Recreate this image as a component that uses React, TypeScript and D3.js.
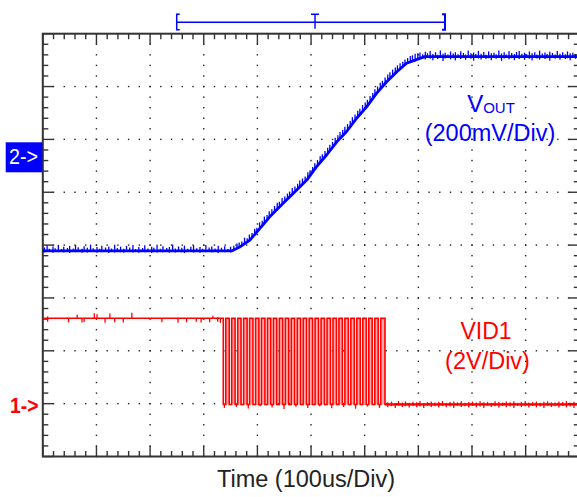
import React from "react";
import * as d3 from "d3";

// ---------- data (time in us, VOUT in mV relative to CH2 marker, VID1 in V) ----------
const TIME_DIVS = 10;
const US_PER_DIV = 100;
const V_DIVS = 8;
const CH1_REF_DIV = 1; // "1->" marker position (divisions from bottom)
const CH1_V_PER_DIV = 2;
const CH2_REF_DIV = 5.66; // "2->" marker position
const CH2_MV_PER_DIV = 200;

// VOUT main trace
const voutT = [0, 352, 368, 386, 402, 423, 448, 470, 492, 510, 529, 548, 566, 585, 604, 622, 641, 660, 678, 694, 712, 1000];
const voutMv = [-354, -354, -338, -313, -275, -225, -174, -130, -86, -36, 9, 59, 97, 148, 192, 242, 286, 324, 356, 368, 381, 381];

// VOUT noise streaks [t, lowMv, highMv]
const voutNoise: [number, number, number][] = [
  [3, -360, -341], [8, -358, -333], [12, -357, -346], [19, -361, -337], [23, -358, -344], [29, -359, -331], [35, -357, -347],
  [39, -360, -338], [46, -358, -343], [50, -362, -335], [57, -358, -345], [61, -359, -332], [66, -357, -340], [73, -361, -346],
  [77, -358, -336], [83, -360, -342], [89, -358, -330], [94, -357, -344], [101, -361, -339], [106, -358, -346], [110, -359, -334],
  [117, -357, -341], [123, -362, -337], [128, -358, -345], [134, -360, -331], [139, -357, -343], [145, -359, -338], [151, -361, -346],
  [156, -358, -335], [162, -357, -341], [168, -360, -332], [173, -358, -347], [179, -361, -339], [186, -357, -343], [190, -359, -333],
  [196, -358, -345], [203, -362, -338], [207, -357, -342], [213, -360, -331], [219, -358, -346], [224, -359, -336], [231, -357, -343],
  [236, -361, -339], [242, -358, -330], [247, -360, -345], [253, -357, -337], [259, -359, -342], [264, -362, -334], [270, -358, -346],
  [276, -357, -338], [281, -360, -333], [287, -358, -344], [293, -361, -339], [298, -357, -346], [304, -359, -332], [310, -358, -341],
  [315, -360, -337], [321, -357, -345], [327, -362, -334], [333, -358, -342], [339, -359, -336], [345, -357, -347], [350, -360, -338],
  [356, -352, -334], [362, -346, -326], [366, -343, -322], [371, -336, -318], [376, -330, -304], [381, -324, -306], [385, -317, -292],
  [390, -306, -286], [395, -295, -270], [399, -285, -266], [404, -272, -246], [409, -260, -240], [413, -250, -224], [418, -238, -218],
  [422, -228, -204], [427, -218, -196], [432, -206, -184], [437, -197, -172], [441, -189, -168], [446, -179, -154], [451, -169, -148],
  [456, -160, -137], [460, -152, -132], [465, -141, -116], [470, -132, -110], [475, -121, -100], [479, -113, -88], [484, -103, -80],
  [489, -93, -72], [494, -82, -56], [498, -72, -50], [503, -58, -36], [507, -47, -22], [512, -33, -10], [517, -21, 4],
  [521, -12, 12], [526, 0, 24], [531, 12, 36], [535, 22, 48], [540, 35, 58], [545, 49, 74], [550, 61, 84], [554, 70, 96],
  [559, 81, 104], [563, 89, 116], [568, 100, 126], [573, 115, 138], [577, 126, 152], [582, 138, 162], [587, 151, 176],
  [591, 161, 184], [596, 171, 198], [601, 184, 208], [605, 193, 218], [610, 207, 232], [615, 220, 244], [619, 231, 258],
  [624, 244, 268], [629, 255, 282], [633, 265, 290], [638, 277, 302], [643, 288, 314], [647, 297, 322], [652, 306, 332],
  [657, 315, 340], [661, 324, 348], [666, 331, 356], [671, 340, 362], [675, 348, 370], [680, 354, 376], [685, 359, 384],
  [689, 362, 386], [694, 364, 392], [699, 370, 394],
  [703, 373, 397], [708, 376, 390], [713, 370, 400], [717, 377, 394], [722, 373, 403], [727, 368, 391], [732, 376, 398],
  [736, 372, 388], [741, 377, 404], [746, 365, 392], [750, 374, 396], [755, 378, 389], [760, 371, 401], [765, 375, 393],
  [769, 367, 398], [774, 377, 390], [779, 372, 402], [784, 376, 395], [788, 369, 389], [793, 377, 404], [798, 373, 394],
  [803, 366, 397], [807, 376, 391], [812, 374, 403], [817, 370, 392], [822, 377, 399], [826, 372, 388], [831, 375, 401],
  [836, 368, 394], [841, 377, 396], [845, 373, 390], [850, 376, 404], [855, 365, 393], [860, 374, 398], [864, 377, 389],
  [869, 371, 402], [874, 375, 395], [879, 368, 391], [883, 377, 399], [888, 372, 403], [893, 376, 392], [898, 369, 396],
  [902, 377, 390], [907, 373, 401], [912, 367, 394], [917, 376, 398], [921, 374, 389], [926, 370, 404], [931, 377, 393],
  [936, 372, 397], [940, 375, 391], [945, 366, 400], [950, 377, 395], [955, 373, 389], [959, 376, 403], [964, 369, 392],
  [969, 377, 398], [974, 372, 390], [978, 375, 401], [983, 368, 394], [988, 377, 396], [993, 373, 391], [997, 376, 402],
];

// VID1 levels and pulse edges
const vidHigh = 3.23;
const vidLow = -0.03;
const vidFirstFall = 336.4;
const vidRise = [341.0, 352.1, 363.3, 374.3, 385.4, 396.6, 407.5, 418.7, 429.8, 440.9, 452.0, 463.1, 474.2, 485.3, 496.5, 507.5, 518.7, 529.8, 540.9, 552.0, 563.1, 574.2, 585.4, 596.5, 607.6, 618.8, 629.9];
const vidFall = [347.5, 358.4, 369.5, 380.8, 391.7, 402.8, 414.0, 425.0, 436.1, 447.2, 458.4, 469.4, 480.6, 491.6, 502.8, 513.9, 525.0, 536.1, 547.3, 558.3, 569.5, 580.6, 591.7, 602.9, 614.0, 625.1, 637.8];

// VID1 noise [t, lowV, highV]
const vidNoise: [number, number, number][] = [
  [9, 3.1, 3.3], [48, 3.08, 3.25], [64, 3.23, 3.36], [73, 3.07, 3.24], [77, 3.09, 3.24], [96, 3.23, 3.42],
  [101, 3.22, 3.38], [116, 3.06, 3.24], [125, 3.22, 3.41], [134, 3.08, 3.24], [150, 3.07, 3.24], [166, 3.22, 3.44],
  [222, 3.08, 3.24], [252, 3.06, 3.25], [268, 3.08, 3.24], [286, 3.1, 3.24], [295, 3.07, 3.24], [311, 3.08, 3.24],
  [317, 3.22, 3.33], [326, 3.1, 3.28], [331, 3.06, 3.24],
  [338.5, -0.16, -0.03], [360.8, -0.12, -0.03], [383, -0.18, -0.03], [405, -0.1, -0.03], [427.4, -0.15, -0.03],
  [449.6, -0.2, -0.03], [471.8, -0.12, -0.03], [494, -0.16, -0.03], [516.3, -0.1, -0.03], [538.5, -0.17, -0.03],
  [560.7, -0.13, -0.03], [583, -0.19, -0.03], [605.2, -0.11, -0.03], [627.5, -0.16, -0.03],
  [643, -0.14, 0.05], [650, -0.1, 0.08], [657, -0.16, 0.02], [663, -0.08, 0.1], [670, -0.13, 0.04], [676, -0.1, 0.09],
  [683, -0.15, 0.03], [690, -0.09, 0.07], [697, -0.14, 0.05], [703, -0.11, 0.1], [710, -0.16, 0.02], [717, -0.08, 0.06],
  [724, -0.13, 0.08], [731, -0.1, 0.04], [738, -0.15, 0.07], [745, -0.09, 0.1], [752, -0.14, 0.03], [759, -0.11, 0.06],
  [766, -0.16, 0.08], [773, -0.08, 0.05], [780, -0.13, 0.09], [787, -0.1, 0.03], [794, -0.15, 0.06], [801, -0.09, 0.08],
  [808, -0.14, 0.04], [815, -0.11, 0.1], [822, -0.16, 0.05], [829, -0.08, 0.07], [836, -0.13, 0.03], [843, -0.1, 0.09],
  [850, -0.15, 0.06], [857, -0.09, 0.04], [864, -0.14, 0.08], [871, -0.11, 0.05], [878, -0.16, 0.09], [885, -0.08, 0.03],
  [892, -0.13, 0.07], [899, -0.1, 0.1], [906, -0.15, 0.04], [913, -0.09, 0.06], [920, -0.14, 0.08], [927, -0.11, 0.03],
  [934, -0.16, 0.07], [941, -0.08, 0.09], [948, -0.13, 0.05], [955, -0.1, 0.04], [962, -0.15, 0.08], [969, -0.09, 0.06],
  [976, -0.14, 0.1], [983, -0.11, 0.03], [990, -0.16, 0.07], [997, -0.08, 0.05],
];

// top horizontal bracket (us)
const bracketRange = [249.6, 749.7];
const triggerT = 507.4;

// ---------- layout ----------
const W = 577;
const H = 497;
const X0 = 42.8;
const X1 = 579.3;
const Y0 = 456.5;
const Y1 = 33.7;

const BLUE = "#0000ff";
const RED = "#ff0000";
const AXIS = "#333333";
const FONT = "'Liberation Sans', Arial, sans-serif";

export default function App() {
  const x = d3.scaleLinear().domain([0, TIME_DIVS * US_PER_DIV]).range([X0, X1]);
  const yd = d3.scaleLinear().domain([0, V_DIVS]).range([Y0, Y1]);
  const ch1 = (v: number) => yd(CH1_REF_DIV + v / CH1_V_PER_DIV);
  const ch2 = (mv: number) => yd(CH2_REF_DIV + mv / CH2_MV_PER_DIV);

  const minorX = d3.range(0, TIME_DIVS * 5 + 1).map((i) => (i * US_PER_DIV) / 5);
  const minorY = d3.range(0, V_DIVS * 5 + 1).map((i) => i / 5);

  // grid dots
  const dots: [number, number][] = [];
  for (let i = 1; i < TIME_DIVS; i++) {
    minorY.forEach((v) => dots.push([x(i * US_PER_DIV), yd(v)]));
  }
  for (let k = 1; k < V_DIVS; k++) {
    minorX.forEach((t) => dots.push([x(t), yd(k)]));
  }

  // VOUT path
  const voutLine = d3
    .line<number>()
    .x((_, i) => x(voutT[i]))
    .y((_, i) => ch2(voutMv[i]));
  const voutPath = voutLine(voutMv) || "";

  // VID1 path
  const vidPts: [number, number][] = [
    [0, vidHigh],
    [vidFirstFall, vidHigh],
    [vidFirstFall, vidLow],
  ];
  vidRise.forEach((r, i) => {
    vidPts.push([r, vidLow], [r, vidHigh], [vidFall[i], vidHigh], [vidFall[i], vidLow]);
  });
  vidPts.push([1000, vidLow]);
  const vidPath =
    d3
      .line<[number, number]>()
      .x((d) => x(d[0]))
      .y((d) => ch1(d[1]))(vidPts) || "";

  const isMajorX = (t: number) => Math.abs(t % US_PER_DIV) < 1e-6;
  const isMajorY = (v: number) => Math.abs(v - Math.round(v)) < 1e-6;

  const bx0 = x(bracketRange[0]);
  const bx1 = x(bracketRange[1]);
  const bt = x(triggerT);

  return (
    <svg
      width={W}
      height={H}
      style={{ position: "absolute", left: 0, top: 0, background: "#fff" }}
      fontFamily={FONT}
    >
      <rect x={0} y={0} width={W} height={H} fill="#fff" />
      {/* grid dots */}
      <g fill="#222">
        {dots.map((d, i) => (
          <rect key={i} x={d[0] - 0.7} y={d[1] - 0.7} width={1.4} height={1.4} />
        ))}
      </g>

      {/* ticks */}
      <g stroke={AXIS} strokeWidth={1.4}>
        {minorX.map((t, i) => {
          const len = isMajorX(t) ? 10.5 : 5.5;
          return (
            <g key={"tx" + i}>
              <line x1={x(t)} x2={x(t)} y1={Y1} y2={Y1 + len} />
              <line x1={x(t)} x2={x(t)} y1={Y0} y2={Y0 - len} />
            </g>
          );
        })}
        {minorY.map((v, i) => {
          const len = isMajorY(v) ? 10.5 : 5.5;
          return (
            <g key={"ty" + i}>
              <line x1={X0} x2={X0 + len} y1={yd(v)} y2={yd(v)} />
              <line x1={X1} x2={X1 - len} y1={yd(v)} y2={yd(v)} />
            </g>
          );
        })}
      </g>
      {/* frame */}
      <rect x={X0} y={Y1} width={X1 - X0} height={Y0 - Y1} fill="none" stroke={AXIS} strokeWidth={2} />

      {/* VID1 trace */}
      <g>
        {vidRise.map((r, i) => (
          <rect
            key={"pf" + i}
            x={x(r)}
            y={ch1(vidHigh)}
            width={x(vidFall[i]) - x(r)}
            height={ch1(vidLow) - ch1(vidHigh)}
            fill="#ffaaaa"
          />
        ))}
        <path d={vidPath} fill="none" stroke={RED} strokeWidth={1.6} />
        <path
          d={`M${x(vidFall[vidFall.length - 1])},${ch1(vidLow)}H${X1}`}
          stroke={RED}
          strokeWidth={2.2}
        />
        {vidNoise.map((n, i) => (
          <line key={"vn" + i} x1={x(n[0])} x2={x(n[0])} y1={ch1(n[1])} y2={ch1(n[2])} stroke={RED} strokeWidth={1.3} />
        ))}
      </g>

      {/* VOUT trace */}
      <g>
        <path d={voutPath} fill="none" stroke={BLUE} strokeWidth={2.8} strokeLinejoin="round" />
        {voutNoise.map((n, i) => (
          <line key={"bn" + i} x1={x(n[0])} x2={x(n[0])} y1={ch2(n[1])} y2={ch2(n[2])} stroke={BLUE} strokeWidth={1.3} />
        ))}
      </g>

      {/* top bracket */}
      <g stroke={BLUE} fill="none">
        <line x1={bx0} x2={bx1} y1={22.3} y2={22.3} strokeWidth={1.5} />
        <path d={`M${bx0 + 3},14.3H${bx0}V29.7H${bx0 + 3}`} strokeWidth={1.5} />
        <path d={`M${bx1 - 3},14.3H${bx1}V29.7H${bx1 - 3}`} strokeWidth={2} />
        <path d={`M${bt - 4},14.3H${bt + 4}M${bt},14.3V28.7`} strokeWidth={1.4} />
      </g>

      {/* channel markers */}
      <rect x={5.7} y={142.3} width={36.6} height={30} fill={BLUE} />
      <text x={9} y={164} fill="#fff" fontSize={22} textLength={29} lengthAdjust="spacingAndGlyphs">
        2-&gt;
      </text>
      <text x={10} y={412.8} fill={RED} fontSize={22} fontWeight="bold" textLength={28.5} lengthAdjust="spacingAndGlyphs">
        1-&gt;
      </text>

      {/* labels */}
      <text x={491} y={111.5} fill={BLUE} fontSize={24} textAnchor="middle">
        V<tspan fontSize={15} dy={1.8}>OUT</tspan>
      </text>
      <text x={490} y={140.5} fill={BLUE} fontSize={23.5} textAnchor="middle">
        (200mV/Div)
      </text>
      <text x={486} y={338.5} fill={RED} fontSize={23} textAnchor="middle">
        VID1
      </text>
      <text x={487.5} y={368.5} fill={RED} fontSize={23.5} textAnchor="middle">
        (2V/Div)
      </text>
      <text x={306} y={486.7} fill="#222" fontSize={23.5} textAnchor="middle">
        Time (100us/Div)
      </text>
    </svg>
  );
}
